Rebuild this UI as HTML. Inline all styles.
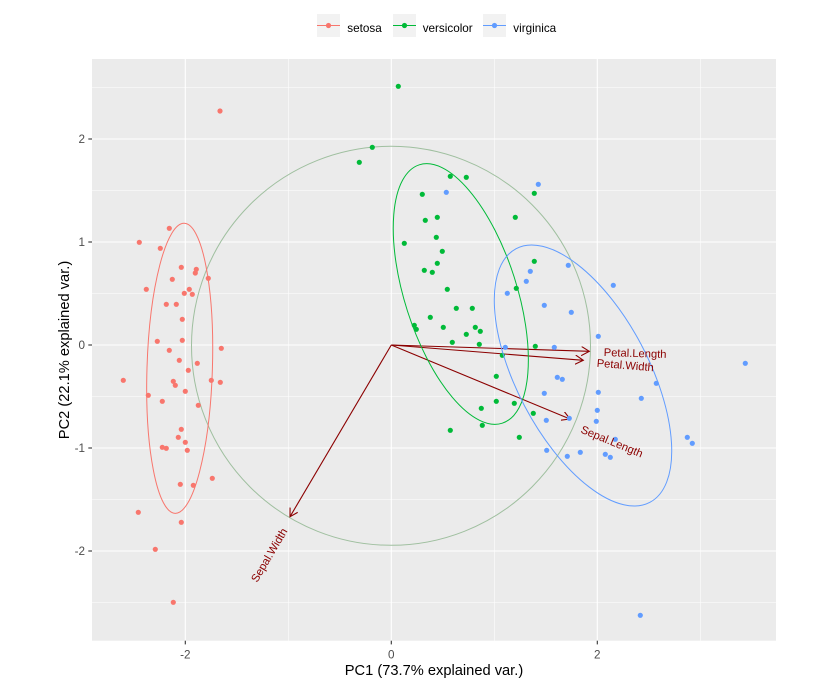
<!DOCTYPE html>
<html><head><meta charset="utf-8"><style>
html,body{margin:0;padding:0;background:#fff;}
svg{display:block;font-family:"Liberation Sans",Arial,sans-serif;}
</style></head><body>
<svg width="833" height="686" viewBox="0 0 833 686" xmlns="http://www.w3.org/2000/svg">
<defs>
<marker id="ah" markerWidth="10" markerHeight="11" refX="8" refY="4.62" orient="auto" markerUnits="userSpaceOnUse">
<path d="M0,0 L8,4.62 L0,9.24" fill="none" stroke="#8B0000" stroke-width="1.1"/>
</marker>
<clipPath id="pc"><rect x="92" y="59" width="684" height="581.7"/></clipPath>
</defs>
<!-- legend -->
<g>
<rect x="317" y="14" width="23" height="23" fill="#F2F2F2"/>
<line x1="317" y1="25.5" x2="340" y2="25.5" stroke="#F8766D" stroke-width="1.1"/>
<circle cx="328.5" cy="25.5" r="2.6" fill="#F8766D"/>
<text x="347.3" y="31.8" font-size="11.7" fill="#000">setosa</text>
<rect x="393" y="14" width="23" height="23" fill="#F2F2F2"/>
<line x1="393" y1="25.5" x2="416" y2="25.5" stroke="#00BA38" stroke-width="1.1"/>
<circle cx="404.5" cy="25.5" r="2.6" fill="#00BA38"/>
<text x="422.7" y="31.8" font-size="11.7" fill="#000">versicolor</text>
<rect x="483" y="14" width="23" height="23" fill="#F2F2F2"/>
<line x1="483" y1="25.5" x2="506" y2="25.5" stroke="#619CFF" stroke-width="1.1"/>
<circle cx="494.5" cy="25.5" r="2.6" fill="#619CFF"/>
<text x="513.3" y="31.8" font-size="11.7" fill="#000">virginica</text>
</g>
<!-- panel -->
<rect x="92" y="59" width="684" height="581.7" fill="#EBEBEB"/>
<g stroke="#fff" stroke-width="0.55">
<line x1="92" x2="776" y1="87.5" y2="87.5"/>
<line x1="92" x2="776" y1="190.5" y2="190.5"/>
<line x1="92" x2="776" y1="293.5" y2="293.5"/>
<line x1="92" x2="776" y1="396.5" y2="396.5"/>
<line x1="92" x2="776" y1="499.5" y2="499.5"/>
<line x1="92" x2="776" y1="602.5" y2="602.5"/>
<line y1="59" y2="640.7" x1="288.3" x2="288.3"/>
<line y1="59" y2="640.7" x1="494.3" x2="494.3"/>
<line y1="59" y2="640.7" x1="700.3" x2="700.3"/>
</g>
<g stroke="#fff" stroke-width="1.1">
<line x1="92" x2="776" y1="139" y2="139"/>
<line x1="92" x2="776" y1="242" y2="242"/>
<line x1="92" x2="776" y1="345" y2="345"/>
<line x1="92" x2="776" y1="448" y2="448"/>
<line x1="92" x2="776" y1="551" y2="551"/>
<line y1="59" y2="640.7" x1="185.3" x2="185.3"/>
<line y1="59" y2="640.7" x1="391.3" x2="391.3"/>
<line y1="59" y2="640.7" x1="597.3" x2="597.3"/>
</g>
<g clip-path="url(#pc)">
<!-- circle -->
<circle cx="391" cy="345.8" r="199.5" fill="none" stroke="#9FBF9F" stroke-width="1"/>
<!-- arrows -->
<g stroke="#8B0000" stroke-width="1.1" fill="none" marker-end="url(#ah)">
<line x1="391.3" y1="345" x2="589.3" y2="351.3"/>
<line x1="391.3" y1="345" x2="583.3" y2="360.3"/>
<line x1="391.3" y1="345" x2="570" y2="419"/>
<line x1="391.3" y1="345" x2="290" y2="516.7"/>
</g>
</g>
<!-- axes ticks -->
<g stroke="#333" stroke-width="1.1">
<line x1="88.3" x2="92" y1="139" y2="139"/>
<line x1="88.3" x2="92" y1="242" y2="242"/>
<line x1="88.3" x2="92" y1="345" y2="345"/>
<line x1="88.3" x2="92" y1="448" y2="448"/>
<line x1="88.3" x2="92" y1="551" y2="551"/>
<line y1="640.7" y2="644.4" x1="185.3" x2="185.3"/>
<line y1="640.7" y2="644.4" x1="391.3" x2="391.3"/>
<line y1="640.7" y2="644.4" x1="597.3" x2="597.3"/>
</g>
<g fill="#4D4D4D" font-size="11.7" text-anchor="end">
<text x="85" y="143.2">2</text>
<text x="85" y="246.2">1</text>
<text x="85" y="349.2">0</text>
<text x="85" y="452.2">-1</text>
<text x="85" y="555.2">-2</text>
</g>
<g fill="#4D4D4D" font-size="11.7" text-anchor="middle">
<text x="185.3" y="658.5">-2</text>
<text x="391.3" y="658.5">0</text>
<text x="597.3" y="658.5">2</text>
</g>
<text x="434" y="675" font-size="14.67" text-anchor="middle" fill="#000">PC1 (73.7% explained var.)</text>
<text transform="translate(69,350) rotate(-90)" font-size="14.67" text-anchor="middle" fill="#000">PC2 (22.1% explained var.)</text>
<g clip-path="url(#pc)">
<g fill="#F8766D">
<circle cx="169.3" cy="228.3" r="2.6"/><circle cx="139.3" cy="242.3" r="2.6"/><circle cx="160.3" cy="248.3" r="2.6"/><circle cx="181.3" cy="267.3" r="2.6"/><circle cx="196.3" cy="269.3" r="2.6"/><circle cx="195.3" cy="273" r="2.6"/><circle cx="172.3" cy="279.3" r="2.6"/><circle cx="208.3" cy="278.3" r="2.6"/><circle cx="146.3" cy="289.3" r="2.6"/><circle cx="189.3" cy="289.3" r="2.6"/><circle cx="184.3" cy="293.3" r="2.6"/><circle cx="192.3" cy="294.3" r="2.6"/><circle cx="166.3" cy="304.3" r="2.6"/><circle cx="176.3" cy="304.3" r="2.6"/><circle cx="182.3" cy="319.3" r="2.6"/><circle cx="157.3" cy="341.3" r="2.6"/><circle cx="182.3" cy="340.3" r="2.6"/><circle cx="221.3" cy="348.3" r="2.6"/><circle cx="169.3" cy="350.3" r="2.6"/><circle cx="179.3" cy="360.3" r="2.6"/><circle cx="197.3" cy="363.3" r="2.6"/><circle cx="188.3" cy="370.3" r="2.6"/><circle cx="123.3" cy="380.3" r="2.6"/><circle cx="173.3" cy="381.3" r="2.6"/><circle cx="175.3" cy="385.3" r="2.6"/><circle cx="211.3" cy="380.3" r="2.6"/><circle cx="220.3" cy="382.3" r="2.6"/><circle cx="185.3" cy="391.3" r="2.6"/><circle cx="148.3" cy="395.3" r="2.6"/><circle cx="162.3" cy="401.3" r="2.6"/><circle cx="198.3" cy="405.3" r="2.6"/><circle cx="181.3" cy="429.3" r="2.6"/><circle cx="178.3" cy="437.3" r="2.6"/><circle cx="185.3" cy="442.3" r="2.6"/><circle cx="162.3" cy="447.3" r="2.6"/><circle cx="166.3" cy="448.3" r="2.6"/><circle cx="187.3" cy="450.3" r="2.6"/><circle cx="212.3" cy="478.3" r="2.6"/><circle cx="180.3" cy="484.3" r="2.6"/><circle cx="193.3" cy="485.3" r="2.6"/><circle cx="138.3" cy="512.3" r="2.6"/><circle cx="220" cy="111" r="2.6"/><circle cx="181.3" cy="522.3" r="2.6"/><circle cx="155.3" cy="549.3" r="2.6"/><circle cx="173.3" cy="602.3" r="2.6"/>
</g>
<g fill="#00BA38">
<circle cx="450.3" cy="176.3" r="2.6"/><circle cx="466.3" cy="177.3" r="2.6"/><circle cx="422.3" cy="194.3" r="2.6"/><circle cx="534.3" cy="193.3" r="2.6"/><circle cx="425.3" cy="220.3" r="2.6"/><circle cx="437.3" cy="217.3" r="2.6"/><circle cx="515.3" cy="217.3" r="2.6"/><circle cx="404.3" cy="243.3" r="2.6"/><circle cx="436.3" cy="237.3" r="2.6"/><circle cx="442.3" cy="251.3" r="2.6"/><circle cx="437.3" cy="263.3" r="2.6"/><circle cx="424.3" cy="270.3" r="2.6"/><circle cx="432.3" cy="272.3" r="2.6"/><circle cx="534.3" cy="261.3" r="2.6"/><circle cx="447.3" cy="289.3" r="2.6"/><circle cx="516.3" cy="288.3" r="2.6"/><circle cx="456.3" cy="308.3" r="2.6"/><circle cx="472.3" cy="308.3" r="2.6"/><circle cx="430.3" cy="317.3" r="2.6"/><circle cx="414.3" cy="325.3" r="2.6"/><circle cx="416.3" cy="329.3" r="2.6"/><circle cx="443.3" cy="327.3" r="2.6"/><circle cx="475.3" cy="327.3" r="2.6"/><circle cx="480.3" cy="331.3" r="2.6"/><circle cx="466.3" cy="334.3" r="2.6"/><circle cx="452.3" cy="342.3" r="2.6"/><circle cx="479.3" cy="344.3" r="2.6"/><circle cx="535.3" cy="346.3" r="2.6"/><circle cx="502.3" cy="355.3" r="2.6"/><circle cx="496.3" cy="376.3" r="2.6"/><circle cx="496.3" cy="401.3" r="2.6"/><circle cx="514.3" cy="403.3" r="2.6"/><circle cx="481.3" cy="408.3" r="2.6"/><circle cx="533.3" cy="413.3" r="2.6"/><circle cx="482.3" cy="425.3" r="2.6"/><circle cx="450.3" cy="430.3" r="2.6"/><circle cx="519.3" cy="437.3" r="2.6"/><circle cx="398.3" cy="86.3" r="2.6"/><circle cx="372.3" cy="147.3" r="2.6"/><circle cx="359.3" cy="162.3" r="2.6"/>
</g>
<g fill="#619CFF">
<circle cx="538.3" cy="184.3" r="2.6"/><circle cx="530.3" cy="271.3" r="2.6"/><circle cx="526.3" cy="281.3" r="2.6"/><circle cx="568.3" cy="265.3" r="2.6"/><circle cx="613.3" cy="285.3" r="2.6"/><circle cx="507.3" cy="293.3" r="2.6"/><circle cx="544.3" cy="305.3" r="2.6"/><circle cx="571.3" cy="312.3" r="2.6"/><circle cx="598.3" cy="336.3" r="2.6"/><circle cx="505.3" cy="347.3" r="2.6"/><circle cx="554.3" cy="347.3" r="2.6"/><circle cx="557.3" cy="377.3" r="2.6"/><circle cx="562.3" cy="379.3" r="2.6"/><circle cx="656.3" cy="383.3" r="2.6"/><circle cx="544.3" cy="393.3" r="2.6"/><circle cx="598.3" cy="392.3" r="2.6"/><circle cx="641.3" cy="398.3" r="2.6"/><circle cx="597.3" cy="410.3" r="2.6"/><circle cx="569.3" cy="418.3" r="2.6"/><circle cx="546.3" cy="420.3" r="2.6"/><circle cx="596.3" cy="421.3" r="2.6"/><circle cx="615.3" cy="439.3" r="2.6"/><circle cx="546.7" cy="450.3" r="2.6"/><circle cx="567.3" cy="456.3" r="2.6"/><circle cx="580.3" cy="452.3" r="2.6"/><circle cx="605.3" cy="454.3" r="2.6"/><circle cx="610.3" cy="457.3" r="2.6"/><circle cx="446.3" cy="192.3" r="2.6"/><circle cx="745.3" cy="363.3" r="2.6"/><circle cx="687.3" cy="437.3" r="2.6"/><circle cx="692.3" cy="443.3" r="2.6"/><circle cx="640.3" cy="615.3" r="2.6"/>
</g>
<!-- ellipses on top of points -->
<ellipse cx="179.7" cy="368.3" rx="32.7" ry="145.1" transform="rotate(1.8 179.7 368.3)" fill="none" stroke="#F8766D" stroke-width="1"/>
<ellipse cx="460.8" cy="294" rx="135.7" ry="56" transform="rotate(72.2 460.8 294)" fill="none" stroke="#00BA38" stroke-width="1"/>
<ellipse cx="583" cy="375.5" rx="143.4" ry="65.9" transform="rotate(62.2 583 375.5)" fill="none" stroke="#619CFF" stroke-width="1"/>
<g fill="#8B0000" font-size="11.2" text-anchor="middle">
<text transform="translate(635,357) rotate(1.8)">Petal.Length</text>
<text transform="translate(625,369) rotate(4.6)">Petal.Width</text>
<text transform="translate(610.5,445) rotate(22.5)">Sepal.Length</text>
<text transform="translate(272.5,557) rotate(-59.4)">Sepal.Width</text>
</g>
</g>
</svg>
</body></html>
